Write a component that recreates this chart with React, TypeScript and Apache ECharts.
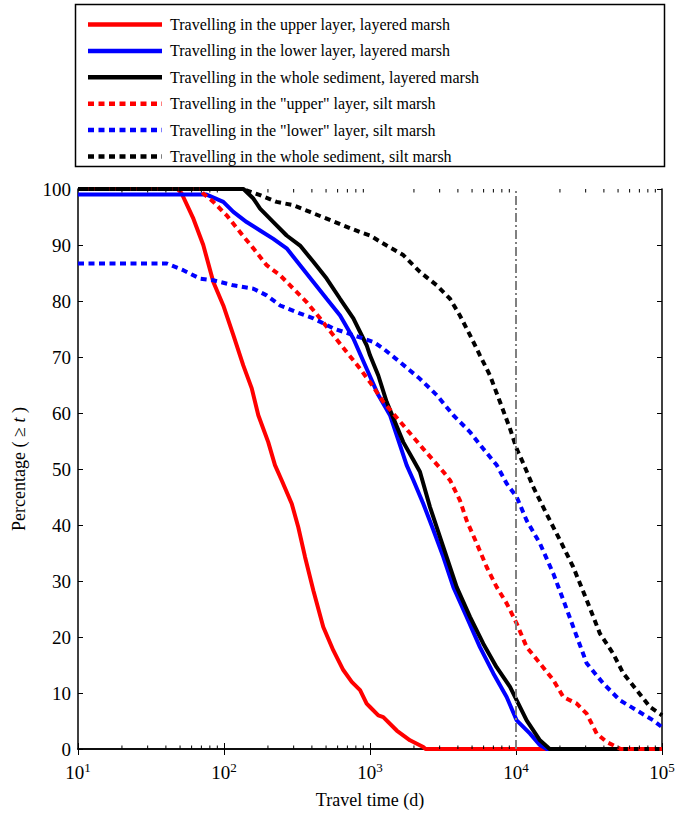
import React, { useEffect, useRef } from 'react';
import * as echarts from 'echarts';

const seriesNames = [
  'Travelling in the upper layer, layered marsh',
  'Travelling in the lower layer, layered marsh',
  'Travelling in the whole sediment, layered marsh',
  'Travelling in the "upper" layer, silt marsh',
  'Travelling in the "lower" layer, silt marsh',
  'Travelling in the whole sediment, silt marsh',
];
const seriesColors = ['#ff0000', '#0000ff', '#000000', '#ff0000', '#0000ff', '#000000'];
const seriesDotted = [false, false, false, true, true, true];

// [travel time (d), percentage >= t]
const upperLayered: [number, number][] = [
  [10, 100], [48, 100], [51.3, 99.2], [61.7, 94.7], [72.1, 90], [84.5, 83.4], [98.9, 79.2],
  [115.9, 73.9], [135.5, 68.5], [154.9, 64.4], [171.8, 59.6], [200.9, 54.8], [223.4, 50.7],
  [248.3, 48], [291.1, 43.8], [322.8, 39.6], [358.9, 34.3], [409.3, 28.3], [478.6, 21.8],
  [561, 17.6], [656.1, 14.1], [749.9, 12.0], [855.1, 10.5], [948.4, 8.1], [1000, 7.5],
  [1140, 6.0], [1233, 5.7], [1524, 3.3], [1879, 1.55], [2317, 0.36], [2400, 0], [100000, 0],
];
const lowerLayered: [number, number][] = [
  [10, 99], [76, 99], [98.9, 97.7], [115.9, 95.9], [142.9, 94.1], [176.6, 92.6], [217.8, 91.1],
  [268.5, 89.4], [331.9, 86.4], [409.3, 83.4], [504.7, 80.4], [623.7, 77.4], [769.1, 73.3],
  [948.4, 67.9], [1140, 63.2], [1371, 59.6], [1782, 50.7], [1982, 48], [2317, 43.8],
  [2716, 39.1], [3177, 34.3], [3724, 28.9], [4592, 23.6], [5662, 18.2], [6998, 13.5],
  [8630, 9.3], [10116, 5.1], [12474, 2.75], [14588, 0.7], [16218, 0], [100000, 0],
];
const wholeLayered: [number, number][] = [
  [10, 100], [136, 100], [158.9, 98.3], [176.6, 96.5], [217.8, 94.1], [268.5, 91.7],
  [331.9, 89.9], [409.3, 87.0], [504.7, 84.0], [623.7, 80.4], [769.1, 76.9], [948.4, 72.1],
  [1000, 70.3], [1140, 66.7], [1300, 62.0], [1690, 54.8], [1982, 51.6], [2198, 49.5],
  [2576, 43.2], [3177, 36.1], [3926, 28.9], [4842, 23.6], [5970, 18.8], [7362, 14.6],
  [9099, 11.1], [10116, 8.7], [11830, 5.1], [14588, 1.55], [16218, 0.5], [17000, 0], [100000, 0],
];
const upperSilt: [number, number][] = [
  [10, 100], [68, 100], [72.1, 99.2], [84.5, 97.7], [104.2, 95.3], [128.8, 92.3], [158.9, 89.4],
  [195.9, 86.4], [242.1, 84.6], [298.5, 82.2], [368.1, 79.8], [455, 76.9], [561, 73.9],
  [691.8, 70.9], [855.1, 67.9], [1000, 65.5], [1233, 62.0], [1690, 57.8], [2317, 53.6],
  [3177, 49.5], [3532, 48.0], [4130, 44.4], [4592, 40.8], [5383, 36.7], [6295, 32.5],
  [7379, 28.9], [8630, 26.0], [10116, 22.4], [11830, 18.2], [14588, 15.3], [18030, 12.3],
  [21086, 9.3], [26062, 8.1], [30479, 6.3], [35727, 2.75], [41783, 1.25], [48978, 0.36],
  [52000, 0], [100000, 0],
];
const lowerSilt: [number, number][] = [
  [10, 86.7], [40.5, 86.7], [52.6, 85.5], [68.5, 84.0], [84.5, 83.7], [115.9, 82.8],
  [158.9, 82.2], [195.9, 81.0], [242.1, 79.2], [314.8, 78.0], [409.3, 76.9], [561, 75.1],
  [769.1, 73.9], [1054, 72.7], [1233, 71.5], [1603, 69.1], [2198, 66.1], [2864, 63.2],
  [3724, 59.6], [4842, 56.6], [5970, 53.6], [7379, 50.7], [8630, 47.4], [10116, 45.0],
  [11830, 40.8], [14588, 36.7], [18030, 31.3], [21086, 26.6], [24660, 21.8], [30479, 15.3],
  [39628, 11.7], [51523, 8.7], [67143, 6.9], [87297, 5.1], [100000, 3.9],
];
const wholeSilt: [number, number][] = [
  [10, 100], [135, 100], [176.6, 98.9], [229.6, 97.7], [298.5, 97.1], [388.2, 95.9],
  [504.7, 94.7], [656.1, 93.5], [855.1, 92.3], [1000, 91.7], [1300, 89.9], [1690, 88.2],
  [2198, 85.2], [2864, 82.8], [3532, 80.4], [4130, 77.4], [4842, 73.9], [5662, 70.3],
  [6637, 66.7], [7762, 62.0], [9099, 57.2], [10116, 53.6], [11220, 51.0], [13122, 46.8],
  [16181, 42.0], [19999, 37.3], [24660, 32.5], [30479, 26.6], [37584, 20.6], [46345, 17.0],
  [54325, 13.5], [67143, 10.5], [82794, 7.5], [96828, 6.3], [100000, 6.0],
];
const allSeries = [upperLayered, lowerLayered, wholeLayered, upperSilt, lowerSilt, wholeSilt];

const referenceTime = 10000;
const xMin = 10;
const xMax = 100000;
const minorMultipliers = [2, 3, 4, 5, 6, 7, 8, 9];
const decades = [10, 100, 1000, 10000];

const FONT = 'Liberation Serif';

export default function App() {
  const ref = useRef<HTMLDivElement>(null);
  useEffect(() => {
    if (!ref.current) return;
    const chart = echarts.init(ref.current, undefined, { renderer: 'svg' });

    const minorTicks: [number, number][] = [];
    decades.forEach((d) => minorMultipliers.forEach((m) => minorTicks.push([d * m, 0])));

    const legendTop = 24.5;
    const legendStep = 26.4;
    const graphic: any[] = [
      {
        type: 'rect',
        shape: { x: 75.5, y: 4.5, width: 589, height: 162 },
        style: { fill: '#fff', stroke: '#000', lineWidth: 1.5 },
      },
    ];
    seriesNames.forEach((name, i) => {
      const y = legendTop + legendStep * i;
      graphic.push({
        type: 'line',
        shape: { x1: 88, y1: y, x2: 162, y2: y },
        style: {
          stroke: seriesColors[i],
          lineWidth: 4.5,
          lineDash: seriesDotted[i] ? [6, 4.5] : null,
        },
      });
      graphic.push({
        type: 'text',
        x: 170,
        y: y,
        style: {
          text: name,
          fontSize: 16,
          fontFamily: FONT,
          fill: '#000',
          verticalAlign: 'middle',
          align: 'left',
        },
      });
    });

    const lineSeries = allSeries.map((data, i) => ({
      name: seriesNames[i],
      type: 'line',
      data,
      showSymbol: false,
      symbol: 'none',
      clip: true,
      lineStyle: {
        color: seriesColors[i],
        width: 4,
        type: seriesDotted[i] ? [6, 4.5] : 'solid',
        cap: 'butt',
      },
      z: 3 + i * 0.01,
    }));

    const option: any = {
      animation: false,
      backgroundColor: '#fff',
      textStyle: { fontFamily: FONT },
      grid: { left: 78, top: 189, right: 16, bottom: 71, containLabel: false },
      xAxis: [
        {
          type: 'log',
          logBase: 10,
          min: xMin,
          max: xMax,
          position: 'bottom',
          name: 'Travel time (d)',
          nameLocation: 'middle',
          nameGap: 42,
          nameTextStyle: { fontFamily: FONT, fontSize: 18, color: '#000' },
          axisLine: { show: true, lineStyle: { color: '#000', width: 1.5 } },
          axisTick: { show: true, inside: true, length: 6, lineStyle: { color: '#000', width: 1 } },
          splitLine: { show: false },
          axisLabel: {
            margin: 12,
            color: '#000',
            formatter: (v: number) => `{b|10}{s|${Math.round(Math.log10(v))}}`,
            rich: {
              b: { fontFamily: FONT, fontSize: 19, color: '#000' },
              s: { fontFamily: FONT, fontSize: 13, color: '#000', padding: [0, 0, 10, 0] },
            },
          },
        },
        {
          type: 'log',
          logBase: 10,
          min: xMin,
          max: xMax,
          position: 'top',
          axisLine: { show: true, lineStyle: { color: '#000', width: 1.5 } },
          axisTick: { show: true, inside: true, length: 6, lineStyle: { color: '#000', width: 1 } },
          axisLabel: { show: false },
          splitLine: { show: false },
        },
      ],
      yAxis: [
        {
          type: 'value',
          min: 0,
          max: 100,
          interval: 10,
          position: 'left',
          name: '{a|Percentage ( ≥ }{i|t}{a| )}',
          nameLocation: 'middle',
          nameGap: 50,
          nameTextStyle: {
            rich: {
              a: { fontFamily: FONT, fontSize: 18, color: '#000' },
              i: { fontFamily: FONT, fontSize: 18, color: '#000', fontStyle: 'italic' },
            },
          },
          axisLine: { show: true, lineStyle: { color: '#000', width: 1.5 } },
          axisTick: { show: true, inside: true, length: 5, lineStyle: { color: '#000', width: 1 } },
          splitLine: { show: false },
          axisLabel: { margin: 7, fontFamily: FONT, fontSize: 19, color: '#000' },
        },
        {
          type: 'value',
          min: 0,
          max: 100,
          interval: 10,
          position: 'right',
          axisLine: { show: true, lineStyle: { color: '#000', width: 1.5 } },
          axisTick: { show: true, inside: true, length: 5, lineStyle: { color: '#000', width: 1 } },
          axisLabel: { show: false },
          splitLine: { show: false },
        },
      ],
      graphic,
      series: [
        ...lineSeries,
        {
          name: 'reference',
          type: 'line',
          data: [[referenceTime, 0], [referenceTime, 100]],
          showSymbol: false,
          symbol: 'none',
          lineStyle: { color: '#808080', width: 2, type: [9, 3, 2, 3] },
          z: 4,
        },
        {
          name: 'minorTicks',
          type: 'custom',
          data: minorTicks,
          z: 5,
          renderItem: (params: any, api: any) => {
            const v = api.value(0);
            const b = api.coord([v, 0]);
            const t = api.coord([v, 100]);
            return {
              type: 'group',
              children: [
                { type: 'line', shape: { x1: b[0], y1: b[1], x2: b[0], y2: b[1] - 3.5 }, style: { stroke: '#000', lineWidth: 1 } },
                { type: 'line', shape: { x1: t[0], y1: t[1], x2: t[0], y2: t[1] + 3.5 }, style: { stroke: '#000', lineWidth: 1 } },
              ],
            };
          },
        },
      ],
    };
    chart.setOption(option);
    return () => chart.dispose();
  }, []);
  return <div ref={ref} style={{ position: 'fixed', left: 0, top: 0, width: 678, height: 820 }} />;
}
